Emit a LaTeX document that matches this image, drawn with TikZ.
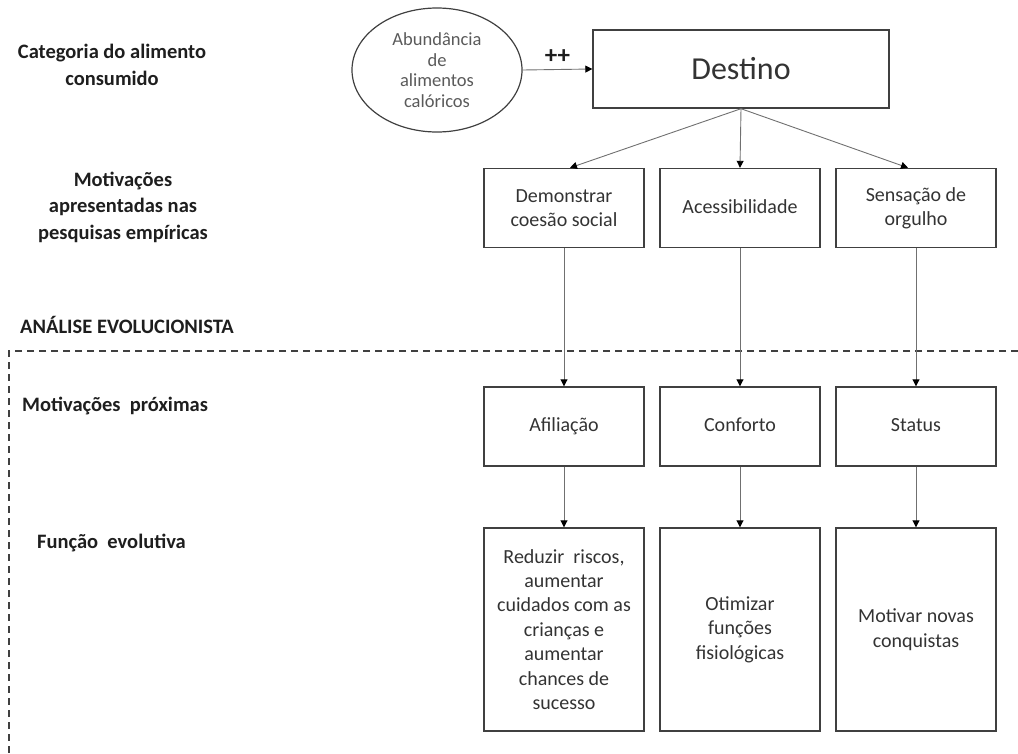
\documentclass[tikz,border=0pt]{standalone}
\usepackage{fontspec}
\setmainfont{Carlito}
\usetikzlibrary{arrows.meta,shapes.geometric}
\definecolor{boxline}{HTML}{404040}
\definecolor{linkgray}{HTML}{707070}
\definecolor{boxtext}{HTML}{333333}
\definecolor{ovaltext}{HTML}{5A5A5A}
\definecolor{labeltext}{HTML}{1E1E1E}
\begin{document}
\begin{tikzpicture}[x=1pt,y=-1pt,
  box/.style={draw=boxline, line width=1.4pt, align=center, text=boxtext,
    inner sep=0pt, minimum width=160pt, font=\fontsize{20}{24.4}\selectfont},
  rowtwo/.style={box, minimum height=79pt},
  rowthree/.style={box, minimum height=79pt, text height=14pt, text depth=4pt},
  rowfour/.style={box, minimum height=203pt},
  link/.style={draw=linkgray, line width=0.9pt,
    -{Triangle[length=7pt,width=7pt,color=black]}},
  sidelabel/.style={text=labeltext, align=center, inner sep=0pt,
    font=\fontsize{20.5}{26.5}\selectfont\bfseries},
  frame/.style={draw=boxline, line width=1.1pt, dash pattern=on 7pt off 5pt}]
\useasboundingbox (0,0) rectangle (1018,753);

% side captions
\node[sidelabel] (cat) at (112,65) {Categoria do alimento\\consumido};
\node[sidelabel] (mot) at (123,207) {Motivações\\apresentadas nas\\pesquisas empíricas};
\node[sidelabel, anchor=west] (evo) at (20,325) {ANÁLISE EVOLUCIONISTA};
\node[sidelabel, anchor=west] (prox) at (22,406) {Motivações\ \ próximas};
\node[sidelabel, anchor=west] (func) at (37,543) {Função\ \ evolutiva};

% frame of the evolutionary analysis
\draw[frame] (1018,351) -- (9,351) -- (9,753);

% top: source and destination
\node[ellipse, draw=boxline, line width=1.2pt, minimum width=170pt,
  minimum height=124pt, inner sep=0pt, align=center, text=ovaltext,
  font=\fontsize{18.5}{20.5}\selectfont] (abund) at (437,70)
  {Abundância\\de\\alimentos\\calóricos};
\node[box, minimum width=296pt, minimum height=78pt,
  font=\fontsize{32}{38}\selectfont] (dest) at (741,69) {Destino};
\draw[link] (abund.east) -- node[above=6pt, text=labeltext,
  font=\fontsize{25}{28}\selectfont\bfseries, inner sep=0pt] (pp) {++} (dest.west);

% motivations found in empirical research
\node[rowtwo] (dem) at (564,208) {Demonstrar\\coesão social};
\node[rowtwo, text height=14pt, text depth=4pt] (ace) at (740,208) {Acessibilidade};
\node[rowtwo] (sen) at (916,208) {Sensação de\\orgulho};

% proximate motivations
\node[rowthree] (afi) at (564,426.5) {Afiliação};
\node[rowthree] (con) at (740,426.5) {Conforto};
\node[rowthree] (sta) at (916,426.5) {Status};

% evolutionary function
\node[rowfour] (red) at (564,629.5) {Reduzir\ \ riscos,\\aumentar\\cuidados com as\\crianças e\\aumentar\\chances de\\sucesso};
\node[rowfour] (oti) at (740,629.5) {Otimizar\\funções\\fisiológicas};
\node[rowfour] (mov) at (916,629.5) {Motivar novas\\conquistas};

% connectors
\draw[link] (dest.south) -- ([xshift=6pt]dem.north);
\draw[link] (dest.south) -- (ace.north);
\draw[link] (dest.south) -- ([xshift=-8pt]sen.north);

\draw[link] (dem.south) -- (afi.north);
\draw[link] (ace.south) -- (con.north);
\draw[link] (sen.south) -- (sta.north);

\draw[link] (afi.south) -- (red.north);
\draw[link] (con.south) -- (oti.north);
\draw[link] (sta.south) -- (mov.north);
\end{tikzpicture}
\end{document}
